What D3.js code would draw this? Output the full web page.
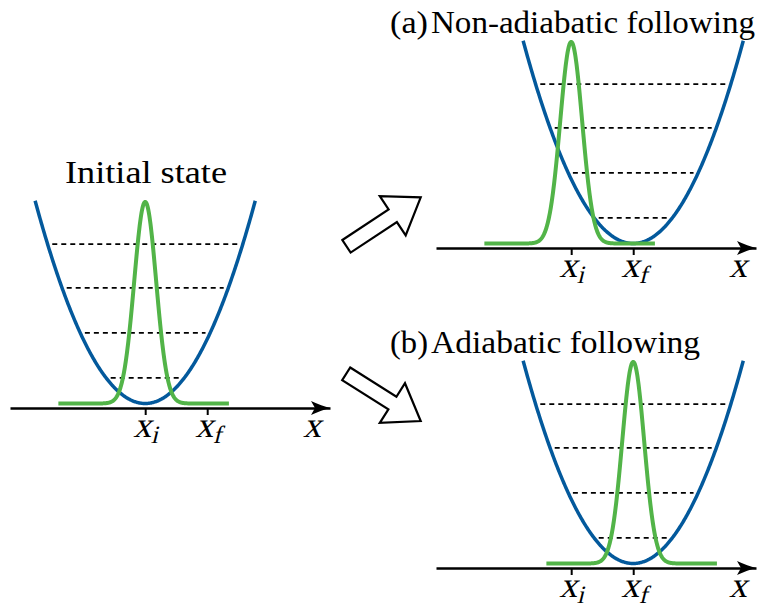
<!DOCTYPE html>
<html>
<head>
<meta charset="utf-8">
<script src="https://cdn.jsdelivr.net/npm/d3@7"></script>
<style>
  html, body { margin: 0; padding: 0; background: #fff; }
  svg { display: block; }
  .txt { font-family: "Liberation Serif", "DejaVu Serif", serif; fill: #000; }
</style>
</head>
<body>
<div id="chart"></div>
<script>
// three panels: initial state, (a) non-adiabatic, (b) adiabatic
const panelTags = ["", "(a)", "(b)"]
const panelTitles = ["Initial state", "Non-adiabatic following", "Adiabatic following"]
const potentialCenters = [0, 1, 1]   // trap minimum (x_i = 0, x_f = 1)
const packetCenters = [0, 0, 1]      // where the wave packet sits

const tickValues = [0, 1]
const tickSubscripts = ["i", "f"]

// energies in units of hbar*omega, measured from the x axis
const energyLevels = [0.67, 1.67, 2.67, 3.64]
const potentialFloor = 0.1
const potentialCurvature = 1.43
const potentialHalfWidth = 1.775
const packetHeight = 4.48
const packetWidth = 0.177
const packetExtent = [-1.4, 1.35]

const width = 757, height = 610
const blue = "#03599c", green = "#52b448"

const svg = d3.select("#chart").append("svg")
  .attr("width", width).attr("height", height)
  .attr("viewBox", `0 0 ${width} ${height}`)

const x = d3.scaleLinear().domain([-2.18, 2.98]).range([0, 320])
const y = d3.scaleLinear().domain([0, 4.7]).range([0, -211.5])
const line = d3.line().x(d => x(d[0])).y(d => y(d[1]))

const origins = [[10, 408], [436, 248], [436, 568]]

// italic math letter, slanted by hand since no serif italic face is around
function mathText(g, px, py, main, sub) {
  const t = g.append("text").attr("class", "txt")
    .attr("transform", `translate(${px},${py}) skewX(-14)`)
    .attr("font-size", 36)
  t.append("tspan").text(main)
  if (sub) t.append("tspan").attr("font-size", 25).attr("dx", 1).attr("dy", 6).text(sub)
}

panelTitles.forEach((title, i) => {
  const g = svg.append("g").attr("transform", `translate(${origins[i][0]},${origins[i][1]})`)
  const c = potentialCenters[i]
  const p = packetCenters[i]

  // axis with ticks at x_i and x_f
  const axis = g.append("g")
    .call(d3.axisBottom(x).tickValues(tickValues).tickSize(7).tickSizeOuter(0).tickFormat(""))
  axis.select(".domain").attr("stroke", "#000").attr("stroke-width", 2.6)
  axis.selectAll(".tick line").attr("stroke", "#000").attr("stroke-width", 2)

  const L = x.range()[1]
  g.append("path")
    .attr("d", `M${L},0 Q${L - 8},-2 ${L - 19},-7 L${L - 15},0 L${L - 19},7 Q${L - 8},2 ${L},0 Z`)
    .attr("fill", "#000")

  tickValues.forEach((t, k) => mathText(g, x(t) - 12, 29, "x", tickSubscripts[k]))
  mathText(g, L - 27, 29, "x")

  // harmonic potential
  const pot = d3.range(-potentialHalfWidth, potentialHalfWidth + 1e-9, 0.01)
    .map(u => [c + u, potentialFloor + potentialCurvature * u * u])
  g.append("path").attr("d", line(pot))
    .attr("fill", "none").attr("stroke", blue).attr("stroke-width", 3.5)

  // energy levels
  energyLevels.forEach(e => {
    const dx = Math.sqrt((e - potentialFloor) / potentialCurvature) - 0.075
    g.append("line")
      .attr("x1", x(c - dx)).attr("x2", x(c + dx))
      .attr("y1", y(e)).attr("y2", y(e))
      .attr("stroke", "#000").attr("stroke-width", 1.8)
      .attr("stroke-dasharray", "5,4")
  })

  // wave packet
  const pk = d3.range(packetExtent[0], packetExtent[1] + 1e-9, 0.005)
    .map(u => [p + u, potentialFloor + packetHeight * Math.exp(-u * u / (2 * packetWidth * packetWidth))])
  g.append("path").attr("d", line(pk))
    .attr("fill", "none").attr("stroke", green).attr("stroke-width", 4)
    .attr("stroke-linejoin", "round")
})

// titles
svg.append("text").attr("class", "txt").attr("x", 146).attr("y", 183)
  .attr("text-anchor", "middle").attr("font-size", 32)
  .attr("textLength", 162).attr("lengthAdjust", "spacingAndGlyphs").text(panelTitles[0])
;[[1, 33, 324], [2, 353, 269]].forEach(([i, by, w]) => {
  svg.append("text").attr("class", "txt").attr("x", 390).attr("y", by).attr("font-size", 32)
    .attr("textLength", 38).attr("lengthAdjust", "spacingAndGlyphs").text(panelTags[i])
  svg.append("text").attr("class", "txt").attr("x", 431).attr("y", by).attr("font-size", 32)
    .attr("textLength", w).attr("lengthAdjust", "spacingAndGlyphs").text(panelTitles[i])
})

// block arrows from the initial state to (a) and (b)
const arrows = [[[346.5, 246.3], [420.7, 197.3]], [[346.2, 373.8], [420.7, 421]]]
arrows.forEach(([a, b]) => {
  const dx = b[0] - a[0], dy = b[1] - a[1]
  const len = Math.hypot(dx, dy)
  const u = [dx / len, dy / len], v = [-u[1], u[0]]
  const hb = len - 33.5
  const local = [[0, -7.5], [hb, -7.5], [hb, -23.5], [len, 0], [hb, 23.5], [hb, 7.5], [0, 7.5]]
  const pts = local.map(([s, t]) => [a[0] + s * u[0] + t * v[0], a[1] + s * u[1] + t * v[1]])
  svg.append("path").attr("d", "M" + pts.join("L") + "Z")
    .attr("fill", "#fff").attr("stroke", "#000").attr("stroke-width", 2.2)
    .attr("stroke-linejoin", "miter")
})
</script>
</body>
</html>
